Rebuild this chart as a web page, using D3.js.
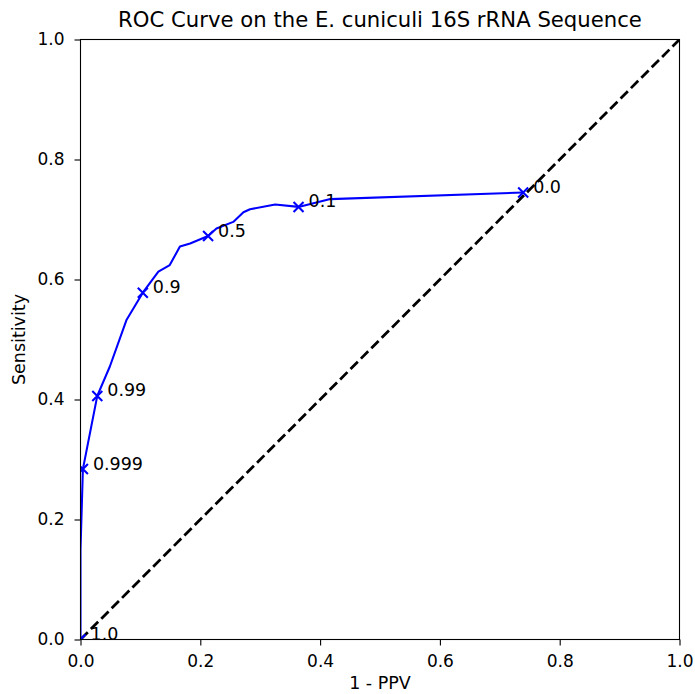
<!DOCTYPE html>
<html><head><meta charset="utf-8">
<script src="https://cdn.jsdelivr.net/npm/d3@7"></script>
<style>body{margin:0;background:#fff;} text{font-family:"DejaVu Sans",sans-serif;}</style>
</head><body>
<svg id="c" width="695" height="694"></svg>
<script>
// Curve points (1 - PPV, Sensitivity)
const curveX = [0.000, 0.000, 0.004, 0.028, 0.049, 0.077, 0.104, 0.130, 0.149, 0.166, 0.183, 0.213, 0.227, 0.255, 0.272, 0.283, 0.325, 0.364, 0.417, 0.739];
const curveY = [0.000, 0.150, 0.284, 0.406, 0.455, 0.533, 0.578, 0.613, 0.624, 0.655, 0.660, 0.6725, 0.685, 0.696, 0.712, 0.717, 0.725, 0.721, 0.734, 0.745];
// Threshold markers
const thrLabels = ["1.0", "0.999", "0.99", "0.9", "0.5", "0.1", "0.0"];
const thrX = [0.000, 0.004, 0.028, 0.104, 0.213, 0.364, 0.739];
const thrY = [0.000, 0.284, 0.406, 0.578, 0.6725, 0.721, 0.745];
const ticks = [0, 0.2, 0.4, 0.6, 0.8, 1.0];

const svg = d3.select("#c");
const L = 80.5, R = 679.5, T = 39.5, B = 639.5;
const x = d3.scaleLinear().domain([0, 1]).range([L, R]);
const y = d3.scaleLinear().domain([0, 1]).range([B, T]);
const FS = 17;

svg.append("defs").append("clipPath").attr("id", "clip")
  .append("rect").attr("x", L).attr("y", T).attr("width", R - L).attr("height", B - T);

const g = svg.append("g").attr("clip-path", "url(#clip)");

// diagonal
g.append("line").attr("x1", x(0)).attr("y1", y(0)).attr("x2", x(1)).attr("y2", y(1))
  .attr("stroke", "#000").attr("stroke-width", 2.78).attr("stroke-dasharray", "10.3,4.4");

// curve
const pts = curveX.map((v, i) => [v, curveY[i]]);
g.append("path").datum(pts)
  .attr("d", d3.line().x(d => x(d[0])).y(d => y(d[1])))
  .attr("fill", "none").attr("stroke", "#0000ff").attr("stroke-width", 2.08)
  .attr("stroke-linejoin", "round");

// markers
const s = 5;
thrX.forEach((v, i) => {
  const cx = x(v), cy = y(thrY[i]);
  g.append("path")
    .attr("d", `M${cx - s},${cy - s}L${cx + s},${cy + s}M${cx - s},${cy + s}L${cx + s},${cy - s}`)
    .attr("stroke", "#0000ff").attr("stroke-width", 2.08).attr("fill", "none");
});

// labels
thrX.forEach((v, i) => {
  svg.append("text").attr("x", x(v) + 10).attr("y", y(thrY[i]) + 0.5)
    .attr("font-size", 17.5).attr("fill", "#000").text(thrLabels[i]);
});

// axes
const fmt = d3.format(".1f");
const xa = svg.append("g").attr("transform", `translate(0,${B})`)
  .call(d3.axisBottom(x).tickValues(ticks).tickFormat(fmt).tickSize(6).tickPadding(9.8));
const ya = svg.append("g").attr("transform", `translate(${L},0)`)
  .call(d3.axisLeft(y).tickValues(ticks).tickFormat(fmt).tickSize(6).tickPadding(10));
[xa, ya].forEach(a => {
  a.select(".domain").remove();
  a.selectAll("line").attr("stroke", "#000").attr("stroke-width", 1.1);
  a.selectAll("text").attr("font-size", FS).attr("fill", "#000").attr("font-family", "DejaVu Sans");
});

// frame
svg.append("rect").attr("x", L).attr("y", T).attr("width", R - L).attr("height", B - T)
  .attr("fill", "none").attr("stroke", "#000").attr("stroke-width", 1.1);

// titles
svg.append("text").attr("x", (L + R) / 2).attr("y", 27).attr("text-anchor", "middle")
  .attr("font-size", 21.2).attr("fill", "#000").text("ROC Curve on the E. cuniculi 16S rRNA Sequence");
svg.append("text").attr("x", (L + R) / 2).attr("y", 689).attr("text-anchor", "middle")
  .attr("font-size", 17.5).attr("fill", "#000").text("1 - PPV");
svg.append("text").attr("transform", `translate(25,${(T + B) / 2}) rotate(-90)`).attr("text-anchor", "middle")
  .attr("font-size", 17.5).attr("fill", "#000").text("Sensitivity");
</script>
</body></html>
